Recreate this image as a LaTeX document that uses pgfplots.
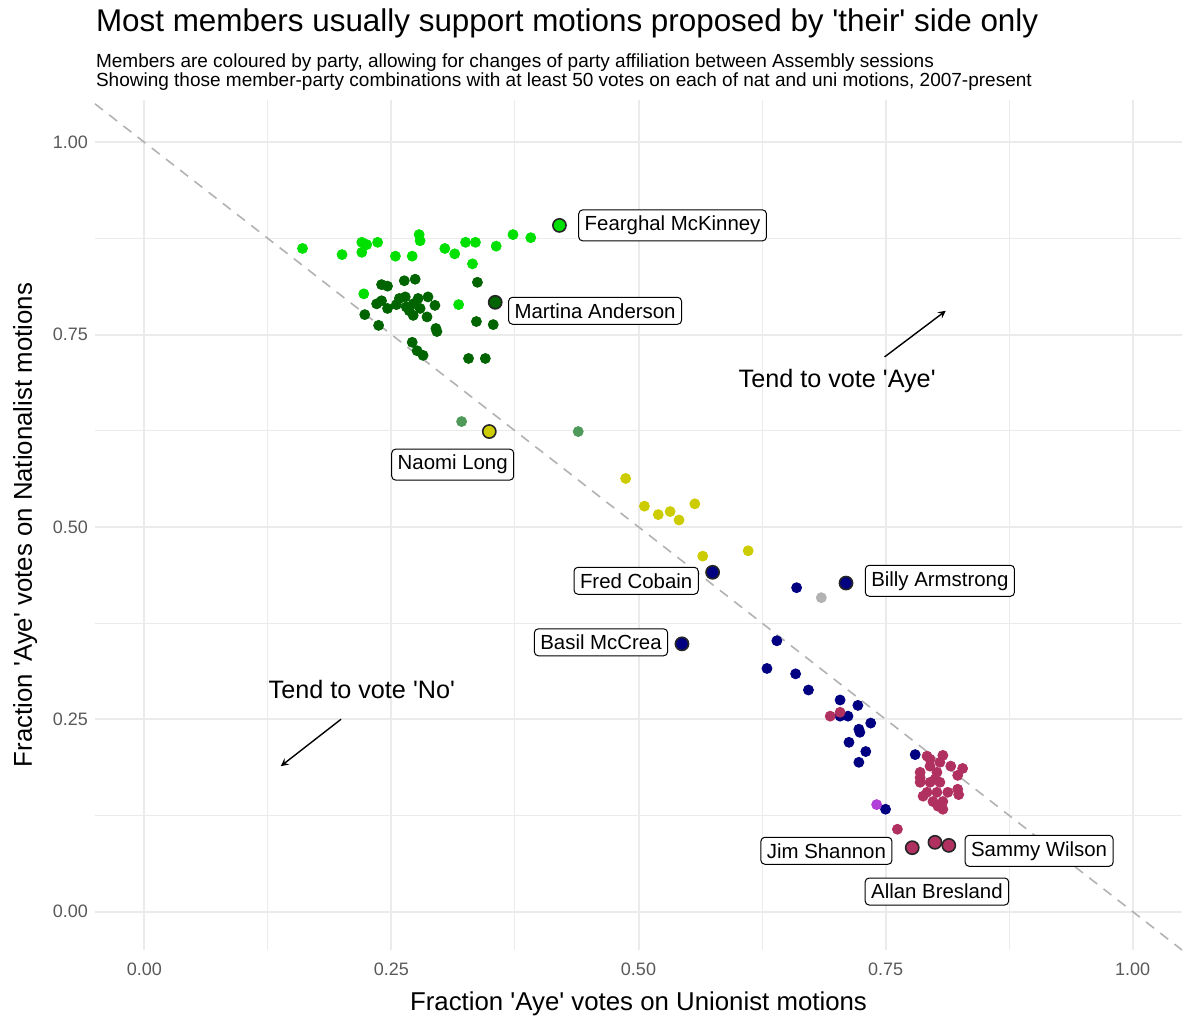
\documentclass[border=0pt]{standalone}
\usepackage{pgfplots}
\pgfplotsset{compat=1.18}
\usepackage{fontspec}
\setmainfont{Liberation Sans}
\newcommand{\q}{\textquotesingle}
\definecolor{lg}{HTML}{00E000}
\definecolor{dg}{HTML}{006400}
\definecolor{gg}{HTML}{4F9A5A}
\definecolor{yy}{HTML}{CCCC00}
\definecolor{nv}{HTML}{000080}
\definecolor{mg}{HTML}{B03060}
\definecolor{pp}{HTML}{B040D8}
\definecolor{gridc}{HTML}{EBEBEB}
\begin{document}
\begin{tikzpicture}
\begin{axis}[scale only axis,width=543.5pt,height=425pt,
 xmin=-0.05,xmax=1.05,ymin=-0.05,ymax=1.055,
 axis line style={draw=none},tick style={draw=none},
 xtick={0,0.25,0.5,0.75,1},ytick={0,0.25,0.5,0.75,1},
 minor xtick={0.125,0.375,0.625,0.875},minor ytick={0.125,0.375,0.625,0.875},
 xticklabels={0.00,0.25,0.50,0.75,1.00},yticklabels={0.00,0.25,0.50,0.75,1.00},
 grid=both,major grid style={gridc,line width=1pt},minor grid style={gridc,line width=0.5pt},
 ticklabel style={font=\fontsize{9}{10}\selectfont,text=black!65},
 xticklabel style={yshift=-3pt},
 xlabel={Fraction \q Aye\q\ votes on Unionist motions},ylabel={Fraction \q Aye\q\ votes on Nationalist motions},
 label style={font=\fontsize{12.9}{15}\selectfont},
 xlabel style={yshift=-1pt},ylabel style={yshift=1pt},
 clip=false]
\addplot[black!30,line width=0.8pt,dash pattern=on 5pt off 4pt] coordinates {(-0.05,1.05)(1.05,-0.05)};
\addplot[only marks,mark=*,mark size=2.5pt,draw=lg,fill=lg] coordinates {
(0.160,0.862)(0.200,0.854)(0.220,0.870)(0.220,0.857)(0.225,0.867)(0.236,0.870)(0.254,0.852)(0.271,0.852)(0.278,0.880)(0.279,0.872)(0.304,0.862)(0.314,0.855)(0.325,0.870)(0.335,0.870)(0.356,0.865)(0.373,0.880)(0.391,0.876)(0.332,0.842)(0.222,0.803)(0.318,0.789)};
\addplot[only marks,mark=*,mark size=2.5pt,draw=dg,fill=dg] coordinates {
(0.240,0.815)(0.246,0.813)(0.263,0.820)(0.274,0.822)(0.337,0.818)(0.235,0.790)(0.240,0.794)(0.246,0.784)(0.255,0.789)(0.264,0.799)(0.265,0.786)(0.272,0.790)(0.272,0.775)(0.279,0.784)(0.287,0.799)(0.286,0.773)(0.294,0.788)(0.223,0.776)(0.237,0.762)(0.295,0.758)(0.296,0.754)(0.336,0.767)(0.353,0.763)(0.271,0.740)(0.276,0.729)(0.282,0.723)(0.328,0.719)(0.345,0.719)(0.258,0.797)(0.268,0.781)(0.277,0.797)};
\addplot[only marks,mark=*,mark size=2.5pt,draw=gg,fill=gg] coordinates {(0.321,0.637)(0.439,0.624)};
\addplot[only marks,mark=*,mark size=2.5pt,draw=yy,fill=yy] coordinates {(0.487,0.563)(0.506,0.527)(0.520,0.516)(0.532,0.520)(0.541,0.509)(0.557,0.530)(0.565,0.462)(0.611,0.469)};
\addplot[only marks,mark=*,mark size=2.5pt,draw=black!30,fill=black!30] coordinates {(0.685,0.408)};
\addplot[only marks,mark=*,mark size=2.5pt,draw=nv,fill=nv] coordinates {
(0.660,0.421)(0.640,0.352)(0.630,0.316)(0.659,0.309)(0.672,0.288)(0.704,0.275)(0.712,0.254)(0.704,0.254)(0.722,0.268)(0.723,0.237)(0.724,0.233)(0.735,0.245)(0.713,0.220)(0.730,0.208)(0.723,0.194)(0.780,0.204)(0.750,0.133)};
\addplot[only marks,mark=*,mark size=2.5pt,draw=pp,fill=pp] coordinates {(0.741,0.139)};
\addplot[only marks,mark=*,mark size=2.5pt,draw=mg,fill=mg] coordinates {
(0.694,0.254)(0.704,0.259)(0.762,0.107)
(0.792,0.202)(0.808,0.203)(0.785,0.181)(0.795,0.189)(0.802,0.181)(0.816,0.189)(0.828,0.186)(0.823,0.177)(0.785,0.168)(0.795,0.168)(0.805,0.168)(0.792,0.155)(0.802,0.155)(0.823,0.159)(0.824,0.152)(0.788,0.150)(0.798,0.143)(0.808,0.143)(0.803,0.137)(0.808,0.133)(0.795,0.198)(0.800,0.172)(0.785,0.174)(0.805,0.194)(0.813,0.155)};
\addplot[only marks,mark=*,mark size=3.3pt,draw=black!85,line width=0.8pt,fill=lg] coordinates {(0.420,0.892)};
\addplot[only marks,mark=*,mark size=3.3pt,draw=black!85,line width=0.8pt,fill=dg] coordinates {(0.355,0.792)};
\addplot[only marks,mark=*,mark size=3.3pt,draw=black!85,line width=0.8pt,fill=yy] coordinates {(0.349,0.624)};
\addplot[only marks,mark=*,mark size=3.3pt,draw=black!85,line width=0.8pt,fill=nv] coordinates {(0.575,0.441)(0.544,0.348)(0.710,0.427)};
\addplot[only marks,mark=*,mark size=3.3pt,draw=black!85,line width=0.8pt,fill=mg] coordinates {(0.777,0.083)(0.800,0.090)(0.814,0.086)};
\tikzset{lab/.style={draw=black,fill=white,rounded corners=2pt,line width=0.5pt,font=\fontsize{10.2}{12}\selectfont,inner sep=3pt}}
\node[lab,anchor=west] at (axis cs:0.439,0.892) {Fearghal McKinney};
\node[lab,anchor=west] at (axis cs:0.368,0.781) {Martina Anderson};
\node[lab] at (axis cs:0.312,0.581) {Naomi Long};
\node[lab,anchor=east] at (axis cs:0.561,0.430) {Fred Cobain};
\node[lab,anchor=west] at (axis cs:0.729,0.430) {Billy Armstrong};
\node[lab,anchor=east] at (axis cs:0.530,0.350) {Basil McCrea};
\node[lab,anchor=east] at (axis cs:0.757,0.079) {Jim Shannon};
\node[lab,anchor=west] at (axis cs:0.830,0.079) {Sammy Wilson};
\node[lab] at (axis cs:0.802,0.026) {Allan Bresland};
\draw[-stealth,line width=0.7pt] (axis cs:0.749,0.721) -- (axis cs:0.811,0.781);
\draw[-stealth,line width=0.7pt] (axis cs:0.199,0.250) -- (axis cs:0.138,0.189);
\node[font=\fontsize{12.6}{14}\selectfont] at (axis cs:0.701,0.690) {Tend to vote \q Aye\q};
\node[font=\fontsize{12.6}{14}\selectfont] at (axis cs:0.220,0.289) {Tend to vote \q No\q};
\end{axis}
\node[anchor=base west,font=\fontsize{15.7}{18}\selectfont] at (-3pt,459pt) {Most members usually support motions proposed by \q their\q\ side only};
\node[anchor=base west,font=\fontsize{9.5}{11}\selectfont] at (-3pt,441pt) {Members are coloured by party, allowing for changes of party affiliation between Assembly sessions};
\node[anchor=base west,font=\fontsize{9.5}{11}\selectfont] at (-3pt,431.5pt) {Showing those member-party combinations with at least 50 votes on each of nat and uni motions, 2007-present};
\path[use as bounding box] (-47.5pt,-37pt) rectangle (550pt,475pt);
\end{tikzpicture}
\end{document}
